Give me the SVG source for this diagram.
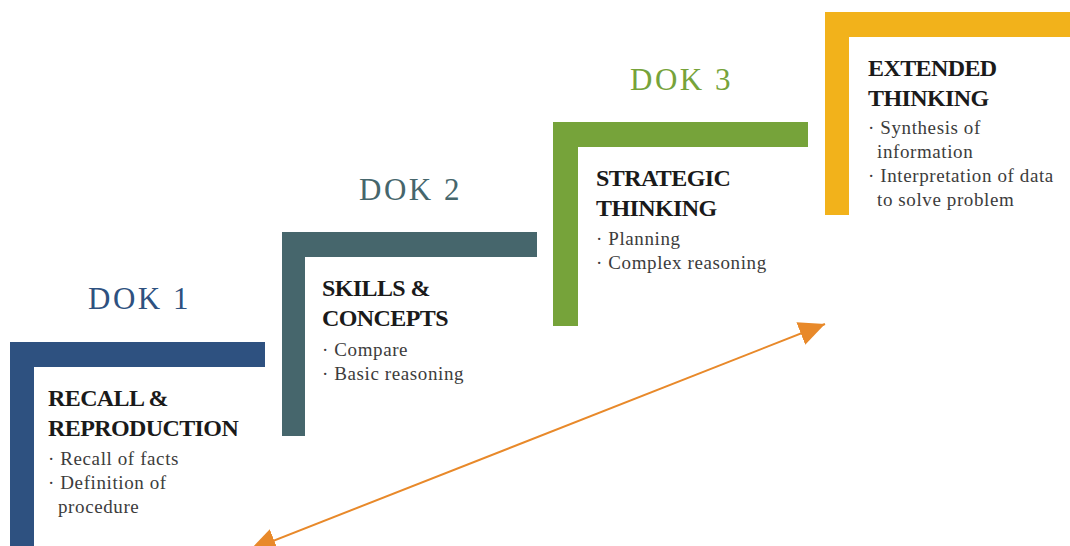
<svg xmlns="http://www.w3.org/2000/svg" width="1070" height="546" viewBox="0 0 1070 546">
<defs>
<marker id="ah" viewBox="0 0 26 24" refX="26" refY="12" markerWidth="26" markerHeight="24" markerUnits="userSpaceOnUse" orient="auto-start-reverse">
<path d="M0,0 L26,12 L0,24 Z" fill="#e8892a"/>
</marker>
<style>
.dok{font-family:"Liberation Serif",serif;font-size:31px;letter-spacing:2.5px;}
.t{font-family:"Liberation Serif",serif;font-size:24px;font-weight:bold;fill:#1a1a1a;letter-spacing:-0.6px;}
.b{font-family:"Liberation Serif",serif;font-size:19px;fill:#3c3c3c;letter-spacing:0.6px;}
</style>
</defs>
<rect width="1070" height="546" fill="#ffffff"/>
<g id="dok1">
<path d="M10,342 H265 V367 H34 V546 H10 Z" fill="#2e5180"/>
<text class="dok" x="88" y="309" fill="#2e5180">DOK 1</text>
<text class="t" x="48" y="406">RECALL &amp;</text>
<text class="t" x="48" y="436">REPRODUCTION</text>
<text class="b" x="48" y="465">· Recall of facts</text>
<text class="b" x="48" y="489">· Definition of</text>
<text class="b" x="58" y="513">procedure</text>
</g>
<g id="dok2">
<path d="M282,232 H537 V257 H305 V436 H282 Z" fill="#46666c"/>
<text class="dok" x="359" y="200" fill="#46666c">DOK 2</text>
<text class="t" x="322" y="296">SKILLS &amp;</text>
<text class="t" x="322" y="326">CONCEPTS</text>
<text class="b" x="322" y="356">· Compare</text>
<text class="b" x="322" y="380">· Basic reasoning</text>
</g>
<g id="dok3">
<path d="M553,122 H808 V147 H578 V326 H553 Z" fill="#76a33a"/>
<text class="dok" x="630" y="90" fill="#76a33a">DOK 3</text>
<text class="t" x="596" y="186">STRATEGIC</text>
<text class="t" x="596" y="216">THINKING</text>
<text class="b" x="596" y="245">· Planning</text>
<text class="b" x="596" y="269">· Complex reasoning</text>
</g>
<g id="dok4">
<path d="M825,12 H1070 V37 H849 V215 H825 Z" fill="#f2b21b"/>
<text class="t" x="868" y="76">EXTENDED</text>
<text class="t" x="868" y="106">THINKING</text>
<text class="b" x="868" y="134">· Synthesis of</text>
<text class="b" x="877" y="158">information</text>
<text class="b" x="868" y="182">· Interpretation of data</text>
<text class="b" x="877" y="206">to solve problem</text>
</g>
<g id="connectors">
<line x1="250" y1="550" x2="825" y2="324" stroke="#e8892a" stroke-width="2" marker-start="url(#ah)" marker-end="url(#ah)"/>
</g>
</svg>
